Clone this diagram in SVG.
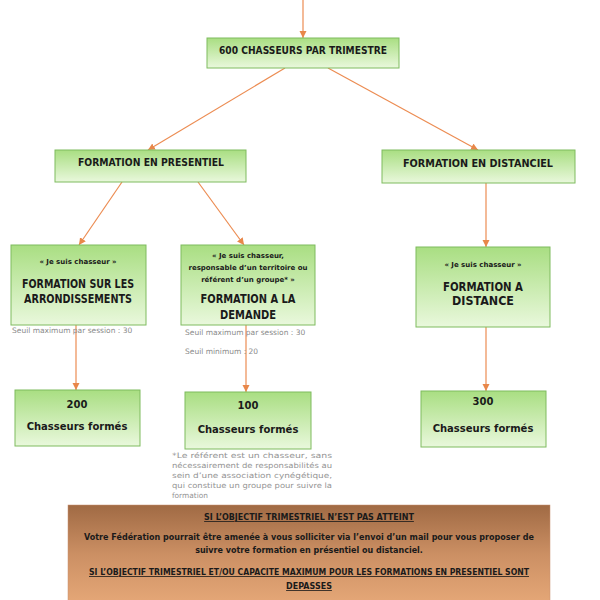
<svg xmlns="http://www.w3.org/2000/svg" width="600" height="600" viewBox="0 0 600 600">
<defs>
<linearGradient id="g" x1="0" y1="0" x2="0" y2="1"><stop offset="0" stop-color="#a9de82"/><stop offset="1" stop-color="#e9f8dc"/></linearGradient>
<linearGradient id="b" x1="0" y1="0" x2="0" y2="1"><stop offset="0" stop-color="#a06a44"/><stop offset="0.5" stop-color="#cc9064"/><stop offset="1" stop-color="#e6a878"/></linearGradient>
<marker id="a" markerWidth="8" markerHeight="8" refX="7" refY="4" orient="auto" markerUnits="userSpaceOnUse"><path d="M0,0.5 L7,4 L0,7.5 Z" fill="#e8874a"/></marker>
<style>
.n{fill:url(#g);stroke:#7fbb5f;stroke-width:1}
.c{stroke:#ec8c52;stroke-width:1.2;fill:none;marker-end:url(#a)}
text{font-family:"DejaVu Sans","Liberation Sans",sans-serif;font-weight:bold;fill:#1a1a1a;text-anchor:middle}
.s{font-size:7px}
.m{font-size:10px}
.l{font-size:12.5px}
.g{font-size:7.5px;font-weight:normal;fill:#8a8a8a;text-anchor:start}
.f{font-size:7.4px;font-weight:normal;fill:#939393;text-anchor:start}
.w{font-size:8px}
.u{text-decoration:underline}
</style>
</defs>
<g id="connectors">
<line class="c" x1="303" y1="0" x2="303" y2="38"/>
<line class="c" x1="285" y1="68" x2="148" y2="150"/>
<line class="c" x1="328" y1="68" x2="478" y2="150"/>
<line class="c" x1="122" y1="182" x2="79" y2="245"/>
<line class="c" x1="198" y1="182" x2="244" y2="245"/>
<line class="c" x1="486" y1="183" x2="486" y2="247"/>
<line class="c" x1="76" y1="325" x2="76" y2="390"/>
<line class="c" x1="246" y1="325" x2="246" y2="392"/>
<line class="c" x1="486" y1="327" x2="486" y2="391"/>
</g>
<g id="top"><rect class="n" x="207" y="38" width="192" height="30"/><text class="m" x="303" y="54" textLength="168" lengthAdjust="spacingAndGlyphs">600 CHASSEURS PAR TRIMESTRE</text></g>
<g id="presentiel"><rect class="n" x="55" y="150" width="191" height="32"/><text class="m" x="151" y="166" textLength="146" lengthAdjust="spacingAndGlyphs">FORMATION EN PRESENTIEL</text></g>
<g id="distanciel"><rect class="n" x="382" y="150" width="193" height="33"/><text class="m" x="478" y="167" textLength="150" lengthAdjust="spacingAndGlyphs">FORMATION EN DISTANCIEL</text></g>
<g id="arrondissements"><rect class="n" x="11" y="245" width="135" height="80"/>
<text class="s" x="78" y="264">« Je suis chasseur »</text>
<text class="l" x="78" y="288" textLength="112" lengthAdjust="spacingAndGlyphs">FORMATION SUR LES</text>
<text class="l" x="78" y="303" textLength="108" lengthAdjust="spacingAndGlyphs">ARRONDISSEMENTS</text></g>
<g id="demande"><rect class="n" x="181" y="245" width="134" height="80"/>
<text class="s" x="248" y="258">« Je suis chasseur,</text>
<text class="s" x="248" y="270">responsable d’un territoire ou</text>
<text class="s" x="248" y="282">référent d’un groupe* »</text>
<text class="l" x="248" y="303" textLength="95" lengthAdjust="spacingAndGlyphs">FORMATION A LA</text>
<text class="l" x="248" y="319" textLength="56" lengthAdjust="spacingAndGlyphs">DEMANDE</text></g>
<g id="distance"><rect class="n" x="416" y="247" width="134" height="80"/>
<text class="s" x="483" y="267">« Je suis chasseur »</text>
<text class="l" x="483" y="291" textLength="80" lengthAdjust="spacingAndGlyphs">FORMATION A</text>
<text class="l" x="483" y="305" textLength="62" lengthAdjust="spacingAndGlyphs">DISTANCE</text></g>
<text class="g" x="12" y="333">Seuil maximum par session : 30</text>
<text class="g" x="185" y="335">Seuil maximum par session : 30</text>
<text class="g" x="185" y="354">Seuil minimum : 20</text>
<g id="r200"><rect class="n" x="15" y="390" width="125" height="56"/><text class="m" x="77" y="408">200</text><text class="m" x="77" y="430">Chasseurs formés</text></g>
<g id="r100"><rect class="n" x="185" y="392" width="126" height="57"/><text class="m" x="248" y="409">100</text><text class="m" x="248" y="433">Chasseurs formés</text></g>
<g id="r300"><rect class="n" x="421" y="391" width="125" height="56"/><text class="m" x="483" y="405">300</text><text class="m" x="483" y="432">Chasseurs formés</text></g>
<g id="footnote">
<text class="f" x="172" y="458" textLength="160" lengthAdjust="spacingAndGlyphs">*Le référent est un chasseur, sans</text>
<text class="f" x="172" y="468" textLength="160" lengthAdjust="spacingAndGlyphs">nécessairement de responsabilités au</text>
<text class="f" x="172" y="478" textLength="160" lengthAdjust="spacingAndGlyphs">sein d’une association cynégétique,</text>
<text class="f" x="172" y="488" textLength="160" lengthAdjust="spacingAndGlyphs">qui constitue un groupe pour suivre la</text>
<text class="f" x="172" y="498">formation</text>
</g>
<g id="bottom"><rect x="68" y="505" width="482" height="100" fill="url(#b)" stroke="#c89070" stroke-width="0.5"/>
<text class="w u" x="309" y="520">SI L’OBJECTIF TRIMESTRIEL N’EST PAS ATTEINT</text>
<text class="w" x="309" y="540" textLength="450" lengthAdjust="spacingAndGlyphs">Votre Fédération pourrait être amenée à vous solliciter via l’envoi d’un mail pour vous proposer de</text>
<text class="w" x="309" y="553">suivre votre formation en présentiel ou distanciel.</text>
<text class="w u" x="309" y="575" textLength="440" lengthAdjust="spacingAndGlyphs">SI L’OBJECTIF TRIMESTRIEL ET/OU CAPACITE MAXIMUM POUR LES FORMATIONS EN PRESENTIEL SONT</text>
<text class="w u" x="309" y="589">DEPASSES</text></g>
</svg>
